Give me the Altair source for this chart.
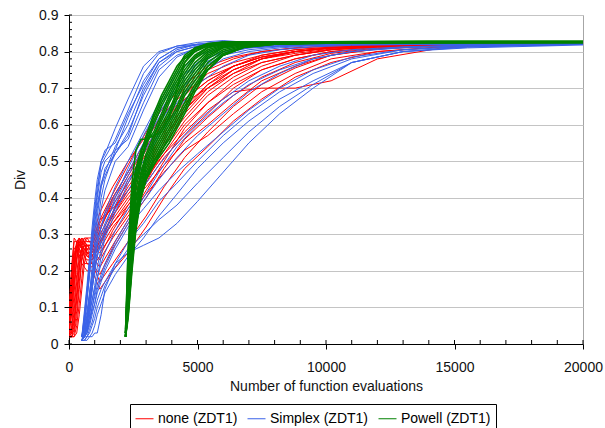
import altair as alt
import pandas as pd

# ---- series definitions -------------------------------------------------
SERIES = ["none (ZDT1)", "Simplex (ZDT1)", "Powell (ZDT1)"]
COLORS = ["#ff0000", "#3a62e8", "#008000"]

# evaluation counts at which each run of a series is sampled
X_NONE = [0, 100, 200, 300, 400, 500, 600, 700, 900, 1200, 1700, 2300, 3000,
          3700, 4500, 5400, 6400, 7500, 8800, 10200, 12000, 14500, 17000, 20000]
X_SIMPLEX = [500, 600, 700, 800, 900, 1000, 1100, 1250, 1400, 1800, 2300, 2900,
             3500, 4200, 5000, 6000, 7000, 8200, 9500, 11000, 13000, 15500, 20000]
X_POWELL = [2200, 2300, 2450, 2600, 2800, 3000, 3300, 3600, 3900, 4200, 4500,
            4900, 5400, 6000, 6800, 8000, 10000, 14000, 20000]

# Div per run, no local search
DIV_NONE = [
    [0.03, 0.12, 0.21, 0.28, 0.29, 0.28, 0.29, 0.29, 0.27, 0.33, 0.40, 0.47, 0.54, 0.61, 0.67, 0.72, 0.76, 0.785, 0.80, 0.81, 0.815, 0.818, 0.82, 0.821],
    [0.02, 0.05, 0.14, 0.23, 0.28, 0.27, 0.26, 0.25, 0.24, 0.29, 0.35, 0.41, 0.47, 0.55, 0.62, 0.69, 0.74, 0.78, 0.80, 0.81, 0.816, 0.818, 0.82, 0.821],
    [0.06, 0.17, 0.26, 0.27, 0.25, 0.26, 0.24, 0.22, 0.21, 0.24, 0.31, 0.38, 0.45, 0.52, 0.60, 0.66, 0.72, 0.76, 0.79, 0.805, 0.814, 0.818, 0.82, 0.82],
    [0.02, 0.02, 0.05, 0.12, 0.20, 0.27, 0.28, 0.27, 0.27, 0.32, 0.38, 0.44, 0.52, 0.60, 0.67, 0.72, 0.76, 0.785, 0.80, 0.81, 0.815, 0.818, 0.819, 0.82],
    [0.04, 0.13, 0.22, 0.27, 0.26, 0.24, 0.22, 0.22, 0.22, 0.19, 0.26, 0.33, 0.40, 0.48, 0.56, 0.62, 0.68, 0.73, 0.77, 0.795, 0.81, 0.816, 0.819, 0.82],
    [0.02, 0.03, 0.09, 0.17, 0.24, 0.26, 0.27, 0.27, 0.26, 0.31, 0.40, 0.47, 0.56, 0.63, 0.70, 0.75, 0.78, 0.80, 0.81, 0.815, 0.818, 0.82, 0.821, 0.822],
    [0.09, 0.20, 0.28, 0.28, 0.27, 0.29, 0.28, 0.28, 0.28, 0.34, 0.37, 0.42, 0.49, 0.57, 0.64, 0.70, 0.75, 0.78, 0.795, 0.807, 0.814, 0.818, 0.82, 0.821],
    [0.02, 0.02, 0.03, 0.07, 0.15, 0.23, 0.28, 0.25, 0.22, 0.17, 0.22, 0.28, 0.35, 0.43, 0.51, 0.58, 0.65, 0.71, 0.755, 0.79, 0.807, 0.815, 0.818, 0.82],
    [0.03, 0.10, 0.19, 0.26, 0.29, 0.27, 0.26, 0.25, 0.25, 0.30, 0.36, 0.43, 0.50, 0.58, 0.65, 0.71, 0.75, 0.78, 0.80, 0.81, 0.815, 0.818, 0.82, 0.82],
    [0.02, 0.02, 0.02, 0.05, 0.11, 0.18, 0.25, 0.27, 0.25, 0.28, 0.33, 0.39, 0.46, 0.53, 0.61, 0.68, 0.73, 0.77, 0.79, 0.805, 0.813, 0.817, 0.82, 0.821],
    [0.05, 0.15, 0.24, 0.28, 0.27, 0.26, 0.24, 0.23, 0.23, 0.27, 0.34, 0.40, 0.46, 0.52, 0.58, 0.64, 0.69, 0.70, 0.70, 0.72, 0.78, 0.81, 0.818, 0.82],
    [0.02, 0.04, 0.11, 0.19, 0.26, 0.28, 0.28, 0.27, 0.27, 0.26, 0.32, 0.37, 0.44, 0.51, 0.57, 0.63, 0.70, 0.75, 0.78, 0.80, 0.812, 0.817, 0.82, 0.821],
    [0.07, 0.18, 0.25, 0.26, 0.24, 0.22, 0.21, 0.20, 0.20, 0.15, 0.20, 0.25, 0.32, 0.40, 0.48, 0.54, 0.61, 0.67, 0.73, 0.77, 0.80, 0.812, 0.817, 0.82],
    [0.02, 0.03, 0.07, 0.14, 0.22, 0.27, 0.29, 0.28, 0.28, 0.34, 0.41, 0.49, 0.58, 0.65, 0.71, 0.76, 0.785, 0.80, 0.81, 0.815, 0.818, 0.82, 0.821, 0.822],
    [0.04, 0.11, 0.20, 0.27, 0.28, 0.26, 0.25, 0.24, 0.24, 0.28, 0.33, 0.38, 0.43, 0.49, 0.55, 0.60, 0.66, 0.72, 0.76, 0.79, 0.808, 0.816, 0.819, 0.82],
    [0.02, 0.02, 0.04, 0.09, 0.17, 0.24, 0.26, 0.24, 0.23, 0.27, 0.36, 0.45, 0.53, 0.61, 0.68, 0.74, 0.77, 0.79, 0.805, 0.812, 0.816, 0.819, 0.82, 0.821],
    [0.03, 0.09, 0.17, 0.23, 0.27, 0.26, 0.27, 0.26, 0.26, 0.23, 0.29, 0.35, 0.41, 0.47, 0.53, 0.57, 0.63, 0.69, 0.74, 0.78, 0.80, 0.813, 0.818, 0.82],
    [0.08, 0.21, 0.29, 0.28, 0.28, 0.29, 0.28, 0.29, 0.29, 0.36, 0.43, 0.50, 0.57, 0.63, 0.69, 0.73, 0.76, 0.785, 0.80, 0.81, 0.816, 0.819, 0.82, 0.821],
    [0.02, 0.02, 0.02, 0.03, 0.08, 0.15, 0.22, 0.26, 0.24, 0.21, 0.27, 0.34, 0.42, 0.50, 0.59, 0.66, 0.71, 0.75, 0.78, 0.80, 0.81, 0.816, 0.819, 0.82],
    [0.03, 0.08, 0.16, 0.24, 0.29, 0.28, 0.27, 0.26, 0.26, 0.31, 0.39, 0.46, 0.54, 0.60, 0.66, 0.70, 0.74, 0.77, 0.79, 0.805, 0.813, 0.817, 0.819, 0.82],
    [0.05, 0.14, 0.23, 0.27, 0.27, 0.28, 0.27, 0.27, 0.27, 0.25, 0.30, 0.36, 0.44, 0.54, 0.63, 0.70, 0.75, 0.78, 0.80, 0.81, 0.815, 0.818, 0.82, 0.821],
    [0.02, 0.03, 0.06, 0.13, 0.21, 0.26, 0.27, 0.25, 0.24, 0.28, 0.35, 0.42, 0.48, 0.56, 0.64, 0.71, 0.76, 0.79, 0.805, 0.812, 0.816, 0.818, 0.82, 0.82],
]

# Div per run, Simplex local search
DIV_SIMPLEX = [
    [0.02, 0.09, 0.16, 0.24, 0.32, 0.39, 0.45, 0.50, 0.52, 0.59, 0.67, 0.76, 0.80, 0.815, 0.82, 0.82, 0.821, 0.821, 0.821, 0.821, 0.821, 0.821, 0.821],
    [0.01, 0.05, 0.12, 0.19, 0.27, 0.34, 0.40, 0.47, 0.50, 0.53, 0.62, 0.72, 0.78, 0.81, 0.818, 0.82, 0.82, 0.82, 0.821, 0.821, 0.821, 0.821, 0.821],
    [0.02, 0.07, 0.14, 0.22, 0.30, 0.37, 0.43, 0.49, 0.51, 0.56, 0.64, 0.74, 0.795, 0.815, 0.825, 0.83, 0.825, 0.822, 0.822, 0.821, 0.821, 0.821, 0.821],
    [0.01, 0.02, 0.07, 0.14, 0.21, 0.28, 0.35, 0.43, 0.48, 0.52, 0.58, 0.68, 0.76, 0.80, 0.815, 0.82, 0.82, 0.82, 0.82, 0.82, 0.821, 0.821, 0.821],
    [0.02, 0.06, 0.13, 0.20, 0.28, 0.33, 0.38, 0.44, 0.47, 0.54, 0.60, 0.70, 0.77, 0.805, 0.82, 0.825, 0.823, 0.822, 0.821, 0.821, 0.821, 0.821, 0.821],
    [0.01, 0.02, 0.05, 0.11, 0.18, 0.25, 0.32, 0.40, 0.45, 0.53, 0.56, 0.66, 0.75, 0.79, 0.81, 0.818, 0.82, 0.82, 0.82, 0.82, 0.82, 0.821, 0.821],
    [0.02, 0.08, 0.15, 0.22, 0.29, 0.36, 0.41, 0.50, 0.53, 0.55, 0.63, 0.71, 0.78, 0.81, 0.82, 0.828, 0.824, 0.822, 0.821, 0.821, 0.821, 0.821, 0.821],
    [0.01, 0.02, 0.03, 0.08, 0.15, 0.22, 0.29, 0.37, 0.42, 0.50, 0.54, 0.64, 0.73, 0.785, 0.81, 0.817, 0.82, 0.82, 0.82, 0.82, 0.821, 0.821, 0.821],
    [0.02, 0.05, 0.12, 0.19, 0.26, 0.31, 0.37, 0.43, 0.46, 0.52, 0.57, 0.69, 0.77, 0.80, 0.815, 0.82, 0.82, 0.82, 0.82, 0.821, 0.821, 0.821, 0.821],
    [0.01, 0.03, 0.07, 0.11, 0.16, 0.20, 0.24, 0.28, 0.32, 0.40, 0.48, 0.57, 0.65, 0.72, 0.77, 0.80, 0.812, 0.816, 0.818, 0.82, 0.82, 0.821, 0.821],
    [0.02, 0.04, 0.08, 0.13, 0.18, 0.23, 0.27, 0.32, 0.36, 0.43, 0.50, 0.58, 0.66, 0.74, 0.79, 0.81, 0.815, 0.818, 0.82, 0.82, 0.82, 0.821, 0.821],
    [0.01, 0.02, 0.03, 0.06, 0.10, 0.14, 0.18, 0.24, 0.29, 0.36, 0.44, 0.52, 0.60, 0.68, 0.75, 0.79, 0.805, 0.813, 0.817, 0.819, 0.82, 0.821, 0.821],
    [0.02, 0.05, 0.09, 0.14, 0.19, 0.24, 0.28, 0.32, 0.35, 0.41, 0.47, 0.55, 0.63, 0.71, 0.77, 0.80, 0.81, 0.815, 0.818, 0.82, 0.82, 0.821, 0.821],
    [0.01, 0.02, 0.04, 0.08, 0.12, 0.16, 0.21, 0.26, 0.30, 0.38, 0.45, 0.50, 0.58, 0.66, 0.73, 0.78, 0.80, 0.81, 0.816, 0.819, 0.82, 0.82, 0.821],
    [0.01, 0.03, 0.07, 0.11, 0.15, 0.20, 0.25, 0.30, 0.33, 0.39, 0.46, 0.54, 0.62, 0.70, 0.76, 0.795, 0.81, 0.815, 0.818, 0.82, 0.82, 0.821, 0.821],
    [0.02, 0.02, 0.05, 0.10, 0.15, 0.20, 0.24, 0.28, 0.31, 0.37, 0.42, 0.49, 0.57, 0.64, 0.71, 0.76, 0.79, 0.805, 0.813, 0.817, 0.819, 0.82, 0.821],
    [0.01, 0.02, 0.04, 0.06, 0.09, 0.11, 0.14, 0.17, 0.20, 0.26, 0.32, 0.37, 0.42, 0.47, 0.52, 0.58, 0.64, 0.70, 0.75, 0.785, 0.805, 0.814, 0.82],
    [0.01, 0.01, 0.02, 0.03, 0.05, 0.07, 0.10, 0.13, 0.16, 0.21, 0.26, 0.30, 0.34, 0.38, 0.44, 0.51, 0.58, 0.65, 0.71, 0.77, 0.80, 0.812, 0.82],
    [0.02, 0.02, 0.02, 0.02, 0.02, 0.03, 0.03, 0.08, 0.15, 0.22, 0.28, 0.33, 0.39, 0.44, 0.50, 0.57, 0.63, 0.69, 0.74, 0.78, 0.805, 0.815, 0.82],
    [0.01, 0.02, 0.05, 0.07, 0.10, 0.13, 0.16, 0.19, 0.22, 0.28, 0.34, 0.39, 0.45, 0.51, 0.57, 0.63, 0.69, 0.74, 0.78, 0.80, 0.812, 0.817, 0.82],
    [0.01, 0.01, 0.02, 0.04, 0.06, 0.09, 0.12, 0.15, 0.17, 0.22, 0.25, 0.27, 0.29, 0.33, 0.39, 0.47, 0.55, 0.63, 0.70, 0.77, 0.80, 0.813, 0.82],
    [0.02, 0.04, 0.06, 0.09, 0.12, 0.15, 0.18, 0.22, 0.25, 0.31, 0.37, 0.43, 0.49, 0.55, 0.61, 0.67, 0.72, 0.76, 0.79, 0.805, 0.813, 0.818, 0.82],
    [0.01, 0.01, 0.01, 0.02, 0.03, 0.05, 0.08, 0.11, 0.14, 0.19, 0.24, 0.29, 0.35, 0.41, 0.48, 0.55, 0.61, 0.67, 0.72, 0.77, 0.80, 0.81, 0.818],
    [0.01, 0.02, 0.03, 0.05, 0.08, 0.11, 0.15, 0.18, 0.21, 0.27, 0.33, 0.40, 0.47, 0.54, 0.60, 0.66, 0.71, 0.75, 0.78, 0.80, 0.81, 0.816, 0.82],
]

# Div per run, Powell local search
DIV_POWELL = [
    [0.03, 0.25, 0.42, 0.48, 0.53, 0.56, 0.62, 0.67, 0.71, 0.75, 0.79, 0.81, 0.822, 0.826, 0.827, 0.827, 0.827, 0.828, 0.828],
    [0.02, 0.22, 0.40, 0.47, 0.52, 0.57, 0.63, 0.68, 0.72, 0.76, 0.785, 0.805, 0.82, 0.825, 0.826, 0.827, 0.827, 0.827, 0.827],
    [0.04, 0.20, 0.38, 0.46, 0.51, 0.55, 0.61, 0.66, 0.70, 0.74, 0.78, 0.80, 0.818, 0.824, 0.826, 0.826, 0.827, 0.827, 0.827],
    [0.02, 0.18, 0.36, 0.45, 0.50, 0.54, 0.60, 0.65, 0.69, 0.73, 0.77, 0.80, 0.815, 0.823, 0.825, 0.826, 0.826, 0.827, 0.827],
    [0.03, 0.17, 0.34, 0.44, 0.50, 0.55, 0.58, 0.63, 0.68, 0.72, 0.76, 0.79, 0.812, 0.822, 0.825, 0.826, 0.826, 0.826, 0.827],
    [0.02, 0.15, 0.32, 0.42, 0.49, 0.56, 0.57, 0.62, 0.67, 0.71, 0.75, 0.785, 0.81, 0.82, 0.824, 0.825, 0.826, 0.826, 0.826],
    [0.03, 0.14, 0.30, 0.40, 0.47, 0.52, 0.57, 0.61, 0.66, 0.70, 0.74, 0.78, 0.805, 0.818, 0.823, 0.825, 0.826, 0.826, 0.826],
    [0.02, 0.13, 0.29, 0.39, 0.46, 0.51, 0.56, 0.60, 0.64, 0.69, 0.73, 0.77, 0.80, 0.816, 0.822, 0.825, 0.825, 0.826, 0.826],
    [0.02, 0.12, 0.27, 0.37, 0.45, 0.50, 0.55, 0.59, 0.63, 0.68, 0.72, 0.76, 0.795, 0.814, 0.821, 0.824, 0.825, 0.826, 0.826],
    [0.03, 0.11, 0.26, 0.36, 0.44, 0.49, 0.54, 0.58, 0.62, 0.67, 0.71, 0.75, 0.79, 0.812, 0.82, 0.824, 0.825, 0.825, 0.826],
    [0.02, 0.10, 0.25, 0.35, 0.43, 0.48, 0.53, 0.57, 0.61, 0.65, 0.70, 0.74, 0.785, 0.81, 0.82, 0.823, 0.825, 0.825, 0.826],
    [0.02, 0.10, 0.24, 0.34, 0.42, 0.47, 0.52, 0.56, 0.60, 0.64, 0.69, 0.73, 0.78, 0.805, 0.818, 0.823, 0.824, 0.825, 0.825],
    [0.03, 0.09, 0.23, 0.33, 0.42, 0.46, 0.51, 0.55, 0.59, 0.63, 0.68, 0.72, 0.77, 0.80, 0.816, 0.822, 0.824, 0.825, 0.825],
    [0.02, 0.09, 0.22, 0.33, 0.41, 0.46, 0.50, 0.54, 0.58, 0.62, 0.66, 0.71, 0.76, 0.795, 0.814, 0.821, 0.824, 0.825, 0.825],
    [0.02, 0.08, 0.22, 0.32, 0.41, 0.45, 0.50, 0.53, 0.57, 0.61, 0.65, 0.70, 0.76, 0.79, 0.812, 0.82, 0.823, 0.824, 0.825],
    [0.02, 0.08, 0.21, 0.32, 0.40, 0.45, 0.49, 0.53, 0.56, 0.60, 0.64, 0.70, 0.75, 0.79, 0.811, 0.82, 0.823, 0.824, 0.825],
    [0.02, 0.07, 0.20, 0.31, 0.40, 0.45, 0.49, 0.52, 0.55, 0.59, 0.63, 0.69, 0.75, 0.79, 0.812, 0.82, 0.824, 0.826, 0.826],
    [0.03, 0.26, 0.44, 0.53, 0.56, 0.56, 0.57, 0.58, 0.62, 0.70, 0.77, 0.81, 0.82, 0.825, 0.827, 0.827, 0.827, 0.828, 0.828],
]

Y_TICKS = [0, 0.1, 0.2, 0.3, 0.4, 0.5, 0.6, 0.7, 0.8, 0.9]
X_TICKS = [0, 5000, 10000, 15000, 20000]
X_MINOR = list(range(0, 20001, 1000))
Y_MINOR = [round(i * 0.02, 2) for i in range(46)]


def runs_frame(name, xs, runs):
    rows = []
    for i, ys in enumerate(runs):
        assert len(ys) == len(xs), (name, i, len(ys))
        for j, (x, y) in enumerate(zip(xs, ys)):
            rows.append({"series": name, "run": f"{name}#{i}", "step": j,
                         "evals": x, "div": y})
    return pd.DataFrame(rows)


df_none = runs_frame(SERIES[0], X_NONE, DIV_NONE)
df_simplex = runs_frame(SERIES[1], X_SIMPLEX, DIV_SIMPLEX)
df_powell = runs_frame(SERIES[2], X_POWELL, DIV_POWELL)

FONT = "Liberation Sans"
W, H = 514, 329

x_scale = alt.Scale(domain=[0, 20000], nice=False, zero=False)
y_scale = alt.Scale(domain=[0, 0.9], nice=False)
color_scale = alt.Scale(domain=SERIES, range=COLORS)

x_axis = alt.Axis(values=X_TICKS, title="Number of function evaluations",
                  grid=False, tickSize=5, labelPadding=11, labelFlush=False,
                  labelOverlap=False, titlePadding=5, format="d")
y_axis = alt.Axis(values=Y_TICKS, title="Div", grid=True, gridColor="#c4c4c4",
                  tickSize=5, labelPadding=6, titlePadding=11,
                  labelExpr="datum.value == 0 ? '0' : format(datum.value, '.1f')")

legend = alt.Legend(orient="none", legendX=61, legendY=389, direction="horizontal",
                    columns=3, title=None, symbolType="stroke", symbolSize=324,
                    symbolStrokeWidth=1, labelFontSize=14, labelFont=FONT,
                    labelColor="#000", labelOffset=4, columnPadding=7,
                    padding=5, strokeColor="#000", fillColor="#ffffff")


def run_layer(df, width):
    return alt.Chart(df).mark_line(strokeWidth=width, clip=True).encode(
        x=alt.X("evals:Q", scale=x_scale, axis=x_axis),
        y=alt.Y("div:Q", scale=y_scale, axis=y_axis),
        color=alt.Color("series:N", scale=color_scale, legend=legend),
        detail="run:N",
        order="step:Q",
    )


# inner tick marks along both axes
x_inner = alt.Chart(pd.DataFrame({"t": X_MINOR})).mark_rule(color="#000").encode(
    x=alt.X("t:Q", scale=x_scale, axis=x_axis),
    y=alt.value(H), y2=alt.value(H - 4),
)
y_inner = alt.Chart(pd.DataFrame({"t": Y_MINOR})).mark_rule(color="#000").encode(
    y=alt.Y("t:Q", scale=y_scale, axis=y_axis),
    x=alt.value(0), x2=alt.value(3),
)

chart = alt.layer(
    run_layer(df_none, 1),
    run_layer(df_simplex, 1),
    run_layer(df_powell, 1.6),
    x_inner,
    y_inner,
).properties(
    width=W, height=H,
    autosize=alt.AutoSizeParams(type="none"),
    padding={"left": 69, "top": 15, "right": 22, "bottom": 84},
    background="#ffffff",
).configure_view(
    stroke="#a6a6a6", strokeWidth=1,
).configure_axis(
    labelFont=FONT, titleFont=FONT, labelFontSize=14, titleFontSize=14,
    labelColor="#111", titleColor="#111", titleFontWeight="normal",
    domainColor="#000", tickColor="#000", domainWidth=1, tickWidth=1,
)

chart.save("out.html", embed_options={"renderer": "svg", "actions": False})
